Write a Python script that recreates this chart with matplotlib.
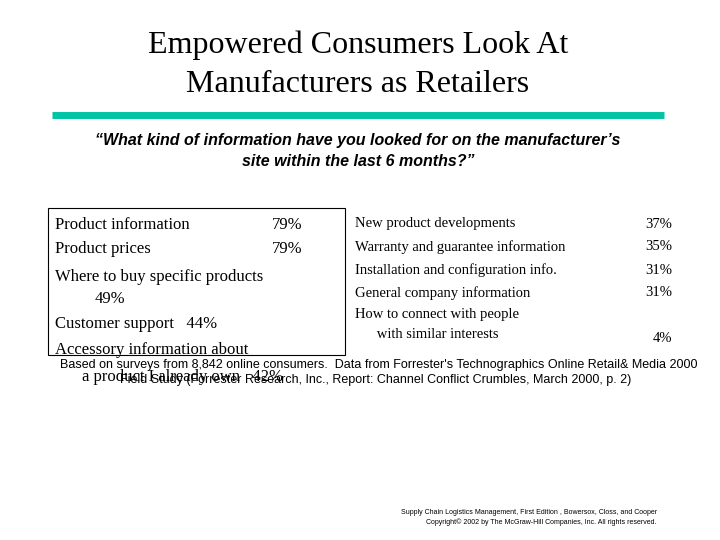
import matplotlib.pyplot as plt
from matplotlib.patches import Rectangle

title_lines = ["Empowered Consumers Look At", "Manufacturers as Retailers"]
question = ["\u201cWhat kind of information have you looked for on the manufacturer\u2019s",
            "site within the last 6 months?\u201d"]

left_labels = ["Product information", "Product prices", "Where to buy specific products",
               "Customer support", "Accessory information about"]
left_values = ["79%", "79%", "49%", "44%", "42%"]

right_labels = ["New product developments", "Warranty and guarantee information",
                "Installation and configuration info.", "General company information",
                "How to connect with people\n      with similar interests"]
right_values = ["37%", "35%", "31%", "31%", "4%"]

source = ["Based on surveys from 8,842 online consumers.  Data from Forrester's Technographics Online Retail& Media 2000",
          "Field Study (Forrester Research, Inc., Report: Channel Conflict Crumbles, March 2000, p. 2)"]
credit = ["Supply Chain Logistics Management, First Edition , Bowersox, Closs, and Cooper",
          "Copyright\u00a9 2002 by The McGraw-Hill Companies, Inc. All rights reserved."]

fig = plt.figure(figsize=(7.2, 5.4), dpi=100)
ax = fig.add_axes([0, 0, 1, 1])
ax.set_xlim(0, 720)
ax.set_ylim(540, 0)
ax.axis("off")

serif = "Liberation Serif"
sans = "Liberation Sans"

for i, t in enumerate(title_lines):
    ax.text(358, 45 + 40 * i, t, ha="center", va="center", family=serif, fontsize=23)
ax.plot([52, 664], [115, 115], color="#00C4A4", lw=5, solid_capstyle="butt")
for i, t in enumerate(question):
    ax.text(358, 140 + 22 * i, t, ha="center", va="center", family=sans,
            fontsize=11.5, style="italic", weight="bold")

ax.add_patch(Rectangle((48, 208), 297, 147, fill=False, lw=0.8))

# left column
ys = [225, 249, 277, 324, 350]
for lab, val, y in zip(left_labels, left_values, ys):
    if lab.startswith("Where"):
        ax.text(55, y, lab, va="center", family=serif, fontsize=12)
        ax.text(95, y + 22, val, va="center", family=serif, fontsize=12)
    elif lab.startswith("Customer"):
        ax.text(55, y, lab + "   " + val, va="center", family=serif, fontsize=12)
    elif lab.startswith("Accessory"):
        ax.text(55, y, lab, va="center", family=serif, fontsize=12)
        ax.text(82, y + 27, "a product I already own   " + val, va="center",
                family=serif, fontsize=12)
    else:
        ax.text(55, y, lab, va="center", family=serif, fontsize=12)
        ax.text(272, y, val, va="center", family=serif, fontsize=12)

# right column
for i, (lab, val) in enumerate(zip(right_labels, right_values)):
    y = 224 + 23 * i
    two = "\n" in lab
    ax.text(355, y - 8 if two else y, lab, va="top" if two else "center",
            family=serif, fontsize=10.5, linespacing=1.75)
    ax.text(672, y + (22 if two else 0), val, ha="right", va="center",
            family=serif, fontsize=10.5)

for i, t in enumerate(source):
    ax.text(60 + 60 * i, 365 + 15 * i, t, va="center", family=sans, fontsize=9)

for i, t in enumerate(credit):
    ax.text(657, 512 + 10 * i, t, ha="right", va="center", family=sans, fontsize=5)

fig.savefig("out.png", dpi=100)
